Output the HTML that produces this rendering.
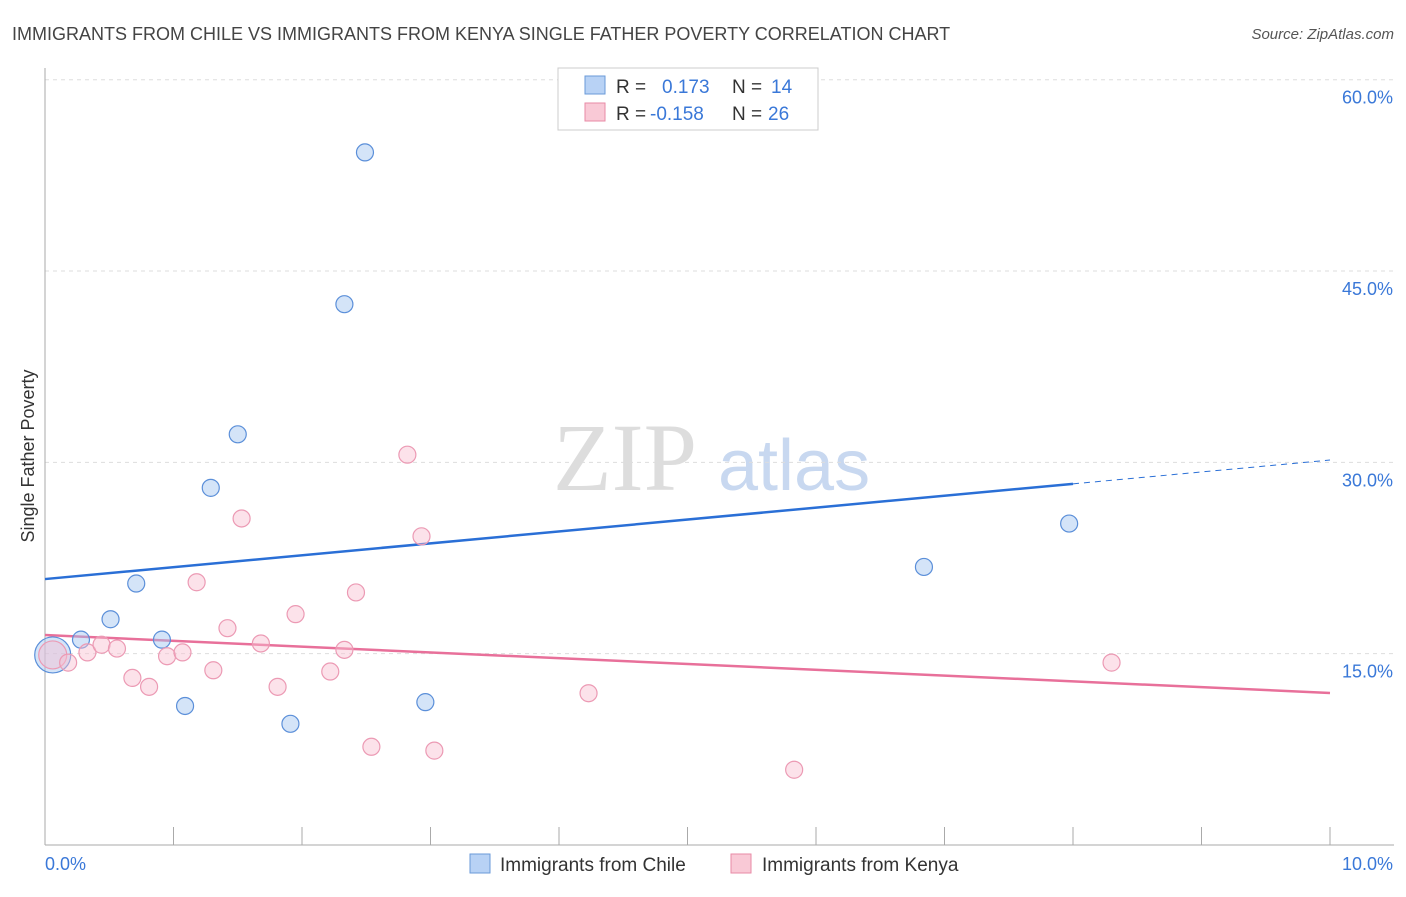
<!DOCTYPE html>
<html><head><meta charset="utf-8"><style>
body{margin:0;background:#fff;font-family:"Liberation Sans",sans-serif}
</style></head><body>
<svg width="1406" height="892" viewBox="0 0 1406 892" xmlns="http://www.w3.org/2000/svg" font-family="Liberation Sans, sans-serif">
<text x="12" y="40" font-size="18" fill="#444">IMMIGRANTS FROM CHILE VS IMMIGRANTS FROM KENYA SINGLE FATHER POVERTY CORRELATION CHART</text>
<text x="1394" y="39" font-size="15" fill="#555" font-style="italic" text-anchor="end">Source: ZipAtlas.com</text>
<text transform="translate(34,456) rotate(-90)" font-size="18" fill="#333" text-anchor="middle">Single Father Poverty</text>
<g><text x="553" y="490" font-size="96" fill="#ddd" font-family="Liberation Serif, serif">ZIP</text><text x="718" y="490" font-size="72" fill="#c8d8f0">atlas</text></g>
<g id="grid"></g><g id="axes"></g><g id="trend"></g><g id="pts"></g>
<g>
<rect x="558" y="68" width="260" height="62" fill="#fff" stroke="#ccc"/>
<rect x="585" y="76" width="20" height="18" fill="#b8d2f5" stroke="#6a9ad8"/>
<text x="616" y="93" font-size="19" fill="#333">R =</text><text x="662" y="93" font-size="19" fill="#3a78d8">0.173</text>
<text x="732" y="93" font-size="19" fill="#333">N =</text><text x="771" y="93" font-size="19" fill="#3a78d8">14</text>
<rect x="585" y="103" width="20" height="18" fill="#f9c9d6" stroke="#e88aa6"/>
<text x="616" y="120" font-size="19" fill="#333">R =</text><text x="650" y="120" font-size="19" fill="#3a78d8">-0.158</text>
<text x="732" y="120" font-size="19" fill="#333">N =</text><text x="768" y="120" font-size="19" fill="#3a78d8">26</text>
</g>
<g>
<rect x="470" y="854" width="20" height="19" fill="#b8d2f5" stroke="#6a9ad8"/>
<text x="500" y="871" font-size="19" fill="#333">Immigrants from Chile</text>
<rect x="731" y="854" width="20" height="19" fill="#f9c9d6" stroke="#e88aa6"/>
<text x="762" y="871" font-size="19" fill="#333">Immigrants from Kenya</text>
</g>
</svg>
<script>
const yTicks=[15,30,45,60];
const yTickLabels=["15.0%","30.0%","45.0%","60.0%"];
const chileX=[0.06,0.28,0.51,0.71,0.91,1.09,1.29,1.50,1.91,2.33,2.49,2.96,6.84,7.97];
const chileY=[14.9,16.1,17.7,20.5,16.1,10.9,28.0,32.2,9.5,42.4,54.3,11.2,21.8,25.2];
const kenyaX=[0.06,0.18,0.33,0.44,0.56,0.68,0.81,0.95,1.07,1.18,1.31,1.42,1.53,1.68,1.81,1.95,2.22,2.33,2.42,2.54,2.82,2.93,3.03,4.23,5.83,8.30];
const kenyaY=[14.9,14.3,15.1,15.7,15.4,13.1,12.4,14.8,15.1,20.6,13.7,17.0,25.6,15.8,12.4,18.1,13.6,15.3,19.8,7.7,30.6,24.2,7.4,11.9,5.9,14.3];
const chileTrend=[20.85,30.18];
const kenyaTrend=[16.46,11.92];
const NS="http://www.w3.org/2000/svg";
const X=v=>45+v*128.5, Y=v=>845-v*12.755;
function mk(t,a,p){const e=document.createElementNS(NS,t);for(const k in a)e.setAttribute(k,a[k]);document.getElementById(p).appendChild(e);return e;}
yTicks.forEach((t,i)=>{
 const l=mk('line',{x1:45,x2:1394,y1:Y(t),y2:Y(t),stroke:'#ddd','stroke-dasharray':'4,4'},'grid');
 
 
 const tx=mk('text',{x:1393,y:Y(t)+24,'font-size':18,fill:'#3a78d8','text-anchor':'end'},'grid');tx.textContent=yTickLabels[i];
 
 
});
mk('line',{x1:45,x2:45,y1:68,y2:845,stroke:'#aaa'},'axes');
mk('line',{x1:45,x2:1394,y1:845,y2:845,stroke:'#aaa'},'axes');
for(let i=1;i<=10;i++){mk('line',{x1:X(i),x2:X(i),y1:827,y2:845,stroke:'#aaa'},'axes');}
let a=mk('text',{x:45,y:870,'font-size':18,fill:'#3a78d8'},'axes');a.textContent='0.0%';


a=mk('text',{x:1393,y:870,'font-size':18,fill:'#3a78d8','text-anchor':'end'},'axes');a.textContent='10.0%';


const bs=chileTrend[0]+(chileTrend[1]-chileTrend[0])*0.8;
let t=mk('line',{x1:X(0),y1:Y(chileTrend[0]),x2:X(8),y2:Y(bs),stroke:'#2a6fd6','stroke-width':2.5},'trend');


t=mk('line',{x1:X(8),y1:Y(bs),x2:X(10),y2:Y(chileTrend[1]),stroke:'#2a6fd6','stroke-width':1,'stroke-dasharray':'6,5'},'trend');


t=mk('line',{x1:X(0),y1:Y(kenyaTrend[0]),x2:X(10),y2:Y(kenyaTrend[1]),stroke:'#e8709a','stroke-width':2.5},'trend');


chileX.forEach((x,i)=>{const c=mk('circle',{cx:X(x),cy:Y(chileY[i]),r:i==0?18:8.5,fill:'rgba(160,195,240,0.45)',stroke:'#5b8fd9','stroke-width':1.2},'pts');
 
 });
kenyaX.forEach((x,i)=>{const c=mk('circle',{cx:X(x),cy:Y(kenyaY[i]),r:i==0?14:8.5,fill:'rgba(248,190,208,0.45)',stroke:'#ec9ab4','stroke-width':1.2},'pts');
 
 });
</script>
</body></html>
